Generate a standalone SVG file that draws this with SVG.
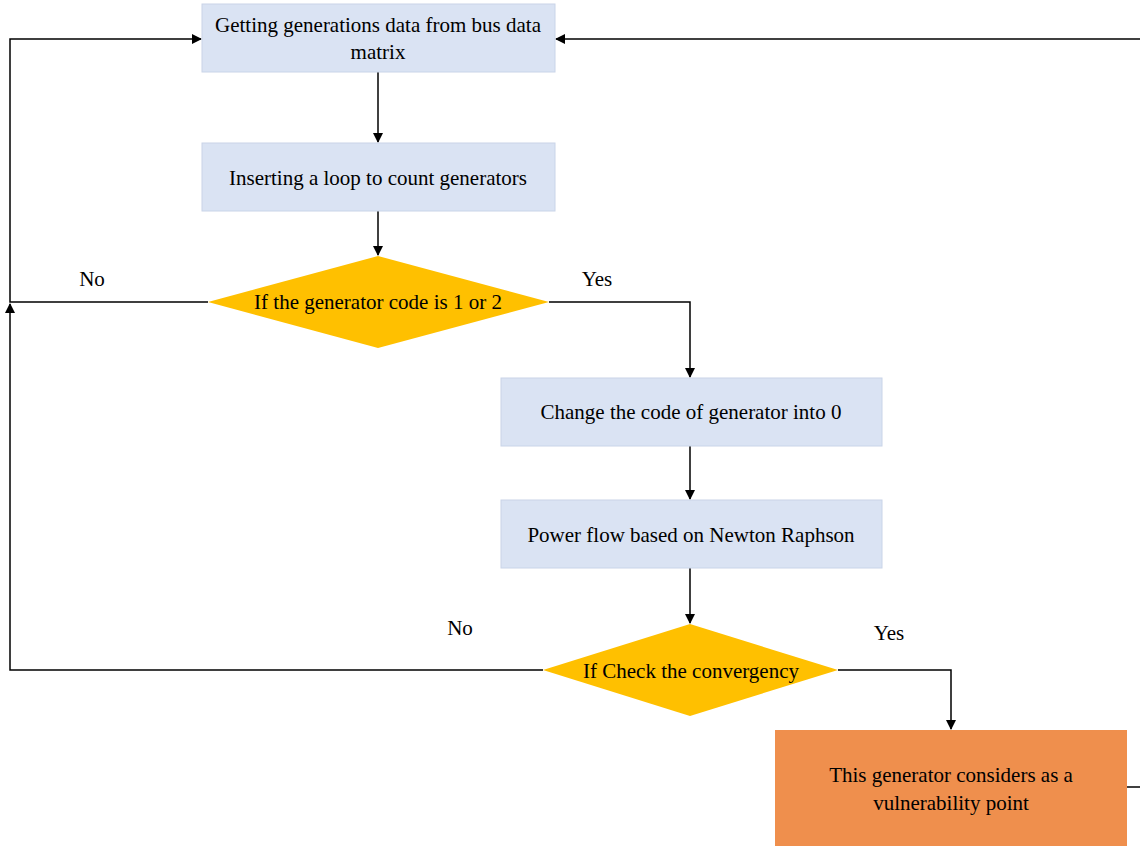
<svg xmlns="http://www.w3.org/2000/svg" width="1140" height="846" viewBox="0 0 1140 846">
<style>
.box{fill:#dae3f3;stroke:#c9d4e8;stroke-width:1}
.dia{fill:#ffc000}
.out{fill:#ef8f4d}
.t{font-family:"Liberation Serif",serif;font-size:21px;fill:#000;text-anchor:middle}
.c{fill:none;stroke:#000;stroke-width:1.5}
</style>
<defs>
<marker id="a" markerWidth="10" markerHeight="10" refX="9" refY="5" orient="auto" markerUnits="userSpaceOnUse">
<path d="M0,0 L10,5 L0,10 Z" fill="#000"/>
</marker>
</defs>
<rect width="1140" height="846" fill="#fff"/>
<g id="connectors">
<path class="c" d="M378,72 V142" marker-end="url(#a)"/>
<path class="c" d="M378,211 V255" marker-end="url(#a)"/>
<path class="c" d="M208,302 H10 V39 H201" marker-end="url(#a)"/>
<path class="c" d="M549,302 H690 V377" marker-end="url(#a)"/>
<path class="c" d="M690,446 V499" marker-end="url(#a)"/>
<path class="c" d="M690,568 V623" marker-end="url(#a)"/>
<path class="c" d="M543,670 H10 V304" marker-end="url(#a)"/>
<path class="c" d="M838,670 H951 V729" marker-end="url(#a)"/>
<path class="c" d="M1127,787 H1140"/>
<path class="c" d="M1140,39 H556" marker-end="url(#a)"/>
<text class="t" x="92" y="286">No</text>
<text class="t" x="597" y="286">Yes</text>
<text class="t" x="460" y="635">No</text>
<text class="t" x="889" y="640">Yes</text>
</g>
<g id="n1"><rect class="box" x="202" y="4" width="353" height="68"/><text class="t" x="378" y="32">Getting generations data from bus data</text><text class="t" x="378" y="59">matrix</text></g>
<g id="n2"><rect class="box" x="202" y="143" width="353" height="68"/><text class="t" x="378" y="185">Inserting a loop to count generators</text></g>
<g id="n3"><polygon class="dia" points="378,256 549,302 378,348 208,302"/><text class="t" x="378" y="309">If the generator code is 1 or 2</text></g>
<g id="n4"><rect class="box" x="501" y="378" width="381" height="68"/><text class="t" x="691" y="419">Change the code of generator into 0</text></g>
<g id="n5"><rect class="box" x="501" y="500" width="381" height="68"/><text class="t" x="691" y="542">Power flow based on Newton Raphson</text></g>
<g id="n6"><polygon class="dia" points="690,624 838,670 690,716 543,670"/><text class="t" x="691" y="678">If Check the convergency</text></g>
<g id="n7"><rect class="out" x="775" y="730" width="352" height="120"/><text class="t" x="951" y="782">This generator considers as a</text><text class="t" x="951" y="810">vulnerability point</text></g>
</svg>
